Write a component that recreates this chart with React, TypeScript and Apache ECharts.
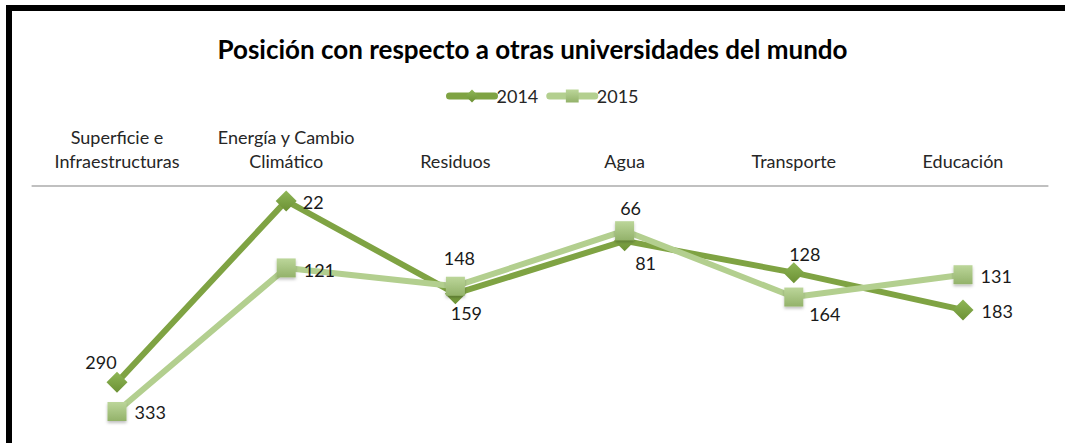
import React, { useEffect, useRef } from "react";
import * as echarts from "echarts";

const categories = [
  "Superficie e\nInfraestructuras",
  "Energía y Cambio\nClimático",
  "Residuos",
  "Agua",
  "Transporte",
  "Educación",
];
const series2014 = [290, 22, 159, 81, 128, 183];
const series2015 = [333, 121, 148, 66, 164, 131];
const labelPos2014: any[] = [
  { position: "top", offset: [-16, 4] },
  { position: "right", offset: [1, 1] },
  { position: "bottom", offset: [11, -5] },
  { position: "bottom", offset: [21, -2] },
  { position: "top", offset: [11, 6] },
  { position: "right", offset: [3, 1] },
];
const labelPos2015: any[] = [
  { position: "right", offset: [3, 1] },
  { position: "right", offset: [3, 2] },
  { position: "top", offset: [4, -5] },
  { position: "top", offset: [6, 1] },
  { position: "bottom", offset: [31, -7] },
  { position: "right", offset: [3, 1] },
];

const FONT = "Lato, 'Noto Sans', sans-serif";

export default function App() {
  const ref = useRef<HTMLDivElement>(null);
  useEffect(() => {
    document.body.style.margin = "0";
    const chart = echarts.init(ref.current!, null, { renderer: "svg" });
    const dark = "#7fa343";
    const light = "#b3cf8f";
    const darkMarker = new echarts.graphic.LinearGradient(0, 0, 0, 1, [
      { offset: 0, color: "#8fb757" },
      { offset: 1, color: "#6c9134" },
    ]);
    const lightMarker = new echarts.graphic.LinearGradient(0, 0, 0, 1, [
      { offset: 0, color: "#bcd69a" },
      { offset: 1, color: "#93b26a" },
    ]);
    const mkData = (vals: number[], pos: any[]) =>
      vals.map((v, i) => ({
        value: v,
        label: { show: true, position: pos[i].position, offset: pos[i].offset },
      }));
    chart.setOption({
      animation: false,
      backgroundColor: "#ffffff",
      textStyle: { fontFamily: FONT },
      title: {
        text: "Posición con respecto a otras universidades del mundo",
        left: "center",
        top: 31,
        textStyle: { fontFamily: FONT, fontSize: 26, fontWeight: "bold", color: "#000000" },
      },
      legend: {
        top: 82,
        left: 441,
        itemWidth: 45,
        itemHeight: 16,
        itemGap: 8,
        lineStyle: { width: 7, cap: "round" },
        textStyle: { fontFamily: FONT, fontSize: 18, color: "#262626", padding: [0, 0, 0, -3] },
        data: ["2014", "2015"],
      },
      graphic: [
        { type: "rect", shape: { x: 6, y: 5, width: 1065, height: 6 }, style: { fill: "#000" }, z: 100 },
        { type: "rect", shape: { x: 6, y: 5, width: 6, height: 450 }, style: { fill: "#000" }, z: 100 },
      ],
      grid: { left: 32.4, right: 17.4, top: 186, height: 237 },
      xAxis: {
        type: "category",
        position: "top",
        data: categories,
        boundaryGap: true,
        axisLine: { show: true, lineStyle: { color: "#c0c0c0", width: 2 } },
        axisTick: { show: false },
        axisLabel: {
          fontFamily: FONT,
          fontSize: 18,
          color: "#262626",
          margin: 13,
          lineHeight: 24,
          interval: 0,
        },
      },
      yAxis: {
        type: "value",
        inverse: true,
        min: 0,
        max: 350,
        show: false,
        splitLine: { show: false },
      },
      series: [
        {
          name: "2014",
          type: "line",
          data: mkData(series2014, labelPos2014),
          symbol: "diamond",
          symbolSize: 21,
          lineStyle: { color: dark, width: 6 },
          itemStyle: { color: darkMarker, borderWidth: 0 },
          label: { fontFamily: FONT, fontSize: 18, color: "#1a1a1a" },
          z: 2,
        },
        {
          name: "2015",
          type: "line",
          data: mkData(series2015, labelPos2015),
          symbol: "rect",
          symbolSize: 19,
          lineStyle: { color: light, width: 6 },
          itemStyle: {
            color: lightMarker,
            borderWidth: 0,
            shadowColor: "rgba(0,0,0,0.25)",
            shadowBlur: 3,
            shadowOffsetY: 2,
          },
          label: { fontFamily: FONT, fontSize: 18, color: "#1a1a1a" },
          z: 3,
        },
      ],
    });
    return () => chart.dispose();
  }, []);
  return (
    <div
      ref={ref}
      style={{ position: "absolute", left: 0, top: 0, width: 1065, height: 443 }}
    />
  );
}
